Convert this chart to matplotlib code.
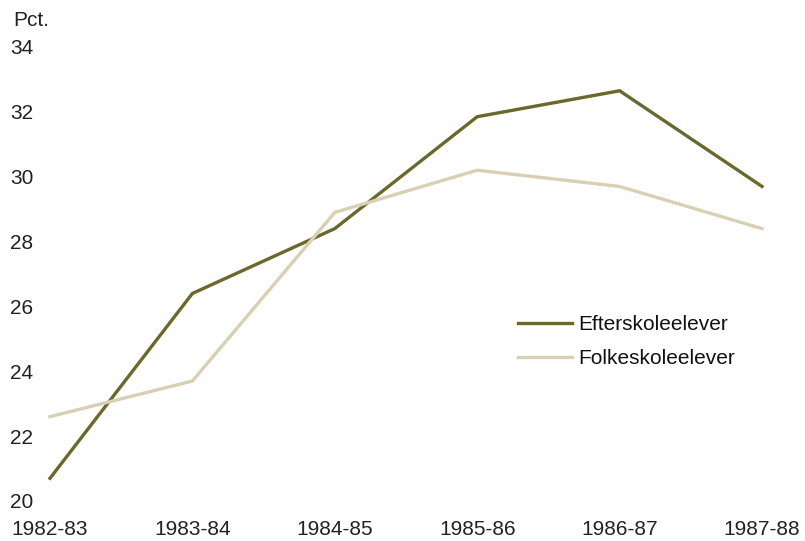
import matplotlib.pyplot as plt

# Andel elever (pct.) pr. skoleår
years = ["1982-83", "1983-84", "1984-85", "1985-86", "1986-87", "1987-88"]
efterskole = [20.7, 26.4, 28.4, 31.85, 32.65, 29.7]
folkeskole = [22.6, 23.7, 28.9, 30.2, 29.7, 28.4]

plt.rcParams['font.family'] = ['Liberation Sans Narrow', 'Liberation Sans', 'DejaVu Sans']

fig = plt.figure(figsize=(8.05, 5.41), dpi=100)
ax = fig.add_axes([50 / 805, 40 / 541, 712 / 805, 454 / 541])

x = range(len(years))
ax.plot(x, efterskole, color='#6a682c', lw=2.4, label='Efterskoleelever',
        solid_joinstyle='miter', clip_on=False)
ax.plot(x, folkeskole, color='#d9d0b3', lw=2.4, label='Folkeskoleelever',
        solid_joinstyle='miter', clip_on=False)

ax.set_xlim(0, 5)
ax.set_ylim(20, 34)
ax.set_xticks(list(x))
ax.set_xticklabels(years)
ax.set_yticks(range(20, 35, 2))

for s in ax.spines.values():
    s.set_visible(False)
ax.tick_params(axis='both', length=0, labelsize=15, colors='#222222')
ax.tick_params(axis='x', pad=14)
ax.tick_params(axis='y', pad=12)

fig.text(13 / 805, 1 - 20 / 541, "Pct.", fontsize=15, color='#222222',
         ha='left', va='center')

ax.legend(loc='upper left', bbox_to_anchor=(0.657, 0.41), frameon=False,
          fontsize=15, handlelength=2.6, handletextpad=0.3,
          labelspacing=0.72, borderaxespad=0, borderpad=0,
          labelcolor='#111111')

fig.savefig("out.png", dpi=100)
